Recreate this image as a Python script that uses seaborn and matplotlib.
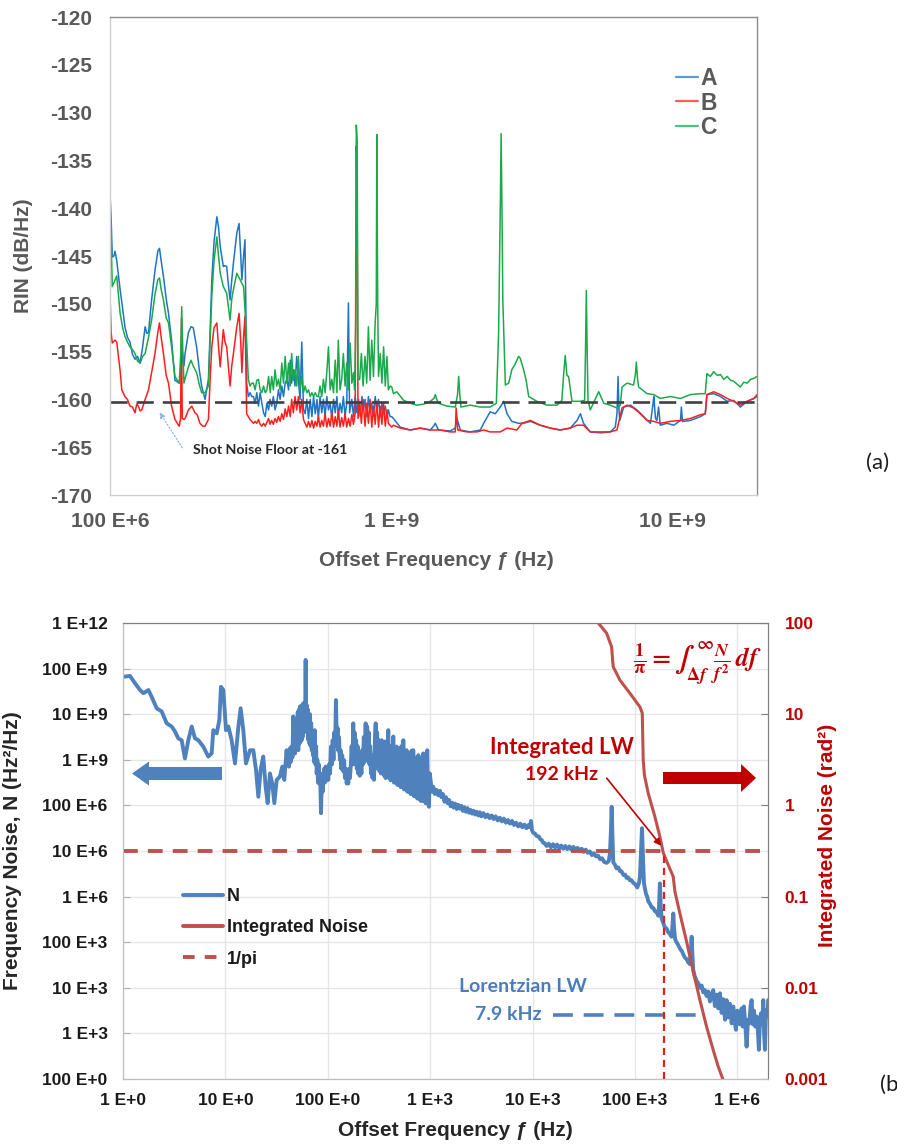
import numpy as np
import pandas as pd
import matplotlib
matplotlib.use("Agg")
import matplotlib.pyplot as plt
import seaborn as sns
from matplotlib.lines import Line2D
from matplotlib.patches import FancyArrow, FancyArrowPatch
from matplotlib.ticker import NullLocator

# ======================= panel (a): RIN spectra =======================
# points are (log10 of offset frequency in Hz, RIN in dB/Hz)
A_rin = [
    (8.000, -138.5), (8.004, -141.0), (8.008, -145.1), (8.014, -145.0), (8.018, -144.5), (8.024, -145.5),
    (8.030, -147.0), (8.036, -148.5), (8.045, -150.5), (8.053, -152.4), (8.062, -153.5), (8.071, -154.0),
    (8.080, -155.3), (8.089, -155.8), (8.098, -155.5), (8.107, -156.2), (8.116, -154.5), (8.125, -152.4),
    (8.131, -153.1), (8.137, -153.0), (8.148, -149.6), (8.160, -146.5), (8.170, -144.5), (8.176, -144.2),
    (8.182, -145.5), (8.190, -147.1), (8.200, -149.5), (8.208, -151.0), (8.219, -153.8), (8.231, -158.0),
    (8.246, -158.3), (8.252, -157.5), (8.257, -155.0), (8.263, -156.5), (8.267, -155.2), (8.279, -153.0),
    (8.288, -152.4), (8.296, -152.5), (8.302, -153.5), (8.308, -154.5), (8.318, -157.0), (8.326, -158.6),
    (8.338, -160.0), (8.350, -157.9), (8.356, -153.0), (8.362, -147.5), (8.370, -143.5), (8.380, -140.9),
    (8.386, -142.0), (8.392, -144.0), (8.403, -146.1), (8.409, -146.0), (8.415, -146.1), (8.421, -148.0),
    (8.427, -149.6), (8.433, -147.5), (8.439, -145.7), (8.451, -142.6), (8.459, -141.6), (8.465, -145.0),
    (8.469, -147.5), (8.475, -145.0), (8.480, -143.3), (8.483, -150.0),
    (8.486, -158.3), (8.492, -159.7), (8.498, -159.3), (8.504, -159.7), (8.510, -159.7), (8.516, -160.4),
    (8.522, -159.3), (8.528, -160.7), (8.534, -159.3), (8.540, -160.4), (8.546, -161.4), (8.552, -161.8),
    (8.558, -160.4), (8.564, -161.1), (8.569, -160.0), (8.575, -160.7), (8.581, -159.7), (8.587, -161.1),
    (8.593, -160.4), (8.599, -159.0), (8.605, -160.0), (8.611, -158.6), (8.617, -159.7), (8.623, -158.3),
    (8.629, -157.9), (8.635, -159.0), (8.641, -155.9), (8.646, -158.3), (8.652, -156.9), (8.658, -158.6),
    (8.664, -155.5), (8.670, -158.0), (8.676, -160.0), (8.682, -154.0), (8.688, -161.0), (8.694, -161.5),
    (8.700, -160.0), (8.706, -162.0), (8.712, -160.0), (8.718, -161.8), (8.724, -159.7), (8.730, -161.5),
    (8.736, -160.0), (8.741, -162.1), (8.747, -159.7), (8.753, -161.4), (8.759, -160.0), (8.765, -161.8),
    (8.771, -159.7), (8.777, -161.1), (8.783, -160.4), (8.789, -162.0), (8.795, -160.0), (8.801, -161.4),
    (8.807, -159.7), (8.812, -161.8), (8.818, -160.4), (8.824, -161.4), (8.830, -159.7), (8.836, -161.8),
    (8.842, -160.4), (8.848, -149.9), (8.852, -161.4), (8.860, -160.0), (8.866, -161.8), (8.872, -159.7),
    (8.878, -161.4), (8.884, -160.0), (8.890, -161.8), (8.896, -159.7), (8.901, -161.1), (8.907, -160.0),
    (8.913, -161.8), (8.919, -159.7), (8.925, -161.4), (8.931, -160.4), (8.937, -161.8), (8.943, -159.7),
    (8.949, -161.1), (8.955, -160.0), (8.961, -161.8), (8.967, -160.4), (8.973, -161.4), (8.979, -160.7),
    (8.985, -161.8), (8.990, -161.1), (8.996, -161.8), (9.002, -161.8),
    (9.008, -162.0), (9.032, -162.9), (9.068, -163.2), (9.103, -163.0), (9.139, -163.2), (9.151, -162.8),
    (9.157, -162.5), (9.168, -163.2), (9.210, -163.3), (9.228, -163.0), (9.234, -162.0), (9.246, -163.2),
    (9.281, -163.4), (9.317, -163.2), (9.329, -162.5), (9.352, -161.3), (9.370, -161.5), (9.388, -160.8),
    (9.400, -160.2), (9.412, -161.5), (9.429, -162.3), (9.453, -162.5), (9.471, -162.5), (9.495, -162.3),
    (9.530, -162.7), (9.566, -163.0), (9.601, -163.2), (9.637, -163.0), (9.661, -162.2), (9.673, -161.5),
    (9.684, -162.5), (9.708, -163.4), (9.744, -163.5), (9.779, -163.4), (9.797, -162.9), (9.803, -161.5),
    (9.807, -157.6), (9.810, -161.0), (9.813, -162.2), (9.827, -160.8), (9.851, -160.6), (9.874, -161.1),
    (9.898, -161.8), (9.922, -162.5), (9.931, -160.5), (9.934, -159.7), (9.940, -162.0), (9.945, -162.2),
    (9.951, -160.8), (9.957, -162.7), (9.981, -162.5), (10.005, -162.7), (10.029, -162.2), (10.032, -160.8),
    (10.036, -162.3), (10.040, -162.3), (10.064, -162.2), (10.100, -161.8), (10.117, -161.5), (10.123, -159.5),
    (10.147, -159.4), (10.171, -159.7), (10.195, -160.2), (10.218, -160.1), (10.242, -160.8), (10.266, -160.2),
    (10.290, -159.9), (10.301, -159.7),
]

B_rin = [
    (8.000, -149.0), (8.004, -153.0), (8.008, -154.1), (8.018, -153.8), (8.024, -154.0), (8.030, -155.5),
    (8.036, -157.0), (8.042, -159.0), (8.053, -159.7), (8.062, -160.0), (8.071, -160.7), (8.080, -160.8),
    (8.089, -161.4), (8.095, -160.5), (8.101, -160.7), (8.107, -161.2), (8.113, -161.1), (8.125, -160.0),
    (8.137, -159.0), (8.148, -157.2), (8.160, -155.2), (8.170, -153.0), (8.176, -152.0), (8.182, -153.5),
    (8.190, -155.2), (8.200, -157.5), (8.208, -158.3), (8.219, -160.7), (8.231, -162.1), (8.246, -162.8),
    (8.251, -162.0), (8.254, -151.5), (8.257, -162.0), (8.263, -162.1), (8.267, -162.0), (8.279, -161.1),
    (8.291, -160.7), (8.302, -161.4), (8.310, -161.6), (8.320, -162.5), (8.330, -162.8), (8.338, -162.8),
    (8.350, -162.1), (8.356, -158.0), (8.362, -154.5), (8.370, -152.5), (8.380, -152.0), (8.386, -154.5),
    (8.392, -156.6), (8.398, -154.5), (8.403, -152.7), (8.409, -154.0), (8.415, -154.5), (8.421, -156.5),
    (8.427, -158.6), (8.433, -156.5), (8.439, -155.2), (8.451, -152.4), (8.459, -151.0), (8.465, -154.0),
    (8.469, -157.2), (8.475, -153.5), (8.480, -151.3), (8.483, -156.0),
    (8.486, -161.5), (8.492, -161.8), (8.498, -162.1), (8.504, -162.3), (8.510, -162.5), (8.516, -162.3),
    (8.522, -162.5), (8.528, -162.1), (8.534, -162.6), (8.540, -162.8), (8.546, -162.5), (8.552, -162.8),
    (8.558, -162.4), (8.564, -162.0), (8.569, -162.6), (8.575, -162.2), (8.581, -162.6), (8.587, -162.0),
    (8.593, -162.4), (8.599, -161.8), (8.605, -162.3), (8.611, -161.5), (8.617, -162.1), (8.623, -161.0),
    (8.629, -161.8), (8.635, -160.7), (8.641, -161.8), (8.646, -160.0), (8.652, -161.4), (8.658, -159.7),
    (8.664, -161.1), (8.670, -159.7), (8.676, -161.4), (8.682, -160.0), (8.688, -162.1), (8.694, -162.5),
    (8.700, -162.9), (8.706, -162.3), (8.712, -162.9), (8.718, -162.2), (8.724, -163.0), (8.730, -162.3),
    (8.736, -162.8), (8.741, -161.8), (8.747, -162.9), (8.753, -162.2), (8.759, -162.8), (8.765, -161.5),
    (8.771, -162.9), (8.777, -162.0), (8.783, -162.8), (8.789, -161.4), (8.795, -162.9), (8.801, -161.8),
    (8.807, -162.8), (8.812, -161.2), (8.818, -162.9), (8.824, -161.9), (8.830, -162.8), (8.836, -161.5),
    (8.842, -162.9), (8.848, -162.0), (8.854, -162.8), (8.860, -161.6), (8.866, -162.6), (8.872, -161.4),
    (8.876, -133.5), (8.879, -140.0), (8.882, -162.0), (8.888, -160.4), (8.894, -162.5), (8.900, -160.0),
    (8.907, -162.8), (8.913, -160.4), (8.919, -162.5), (8.925, -160.0), (8.931, -162.9), (8.937, -160.7),
    (8.943, -162.6), (8.949, -160.2), (8.955, -162.9), (8.961, -160.7), (8.967, -162.6), (8.973, -160.4),
    (8.979, -162.8), (8.985, -161.1), (8.990, -162.5), (8.996, -162.7), (9.002, -162.9),
    (9.008, -162.7), (9.032, -163.0), (9.068, -163.2), (9.103, -163.0), (9.139, -163.2), (9.174, -163.2),
    (9.210, -163.4), (9.228, -163.4), (9.231, -160.9), (9.237, -163.2), (9.269, -163.4), (9.305, -163.4),
    (9.329, -163.2), (9.352, -163.4), (9.388, -163.4), (9.412, -163.0), (9.447, -163.2), (9.465, -162.5),
    (9.495, -162.2), (9.530, -162.7), (9.566, -163.0), (9.601, -163.2), (9.637, -163.0), (9.661, -162.7),
    (9.684, -162.7), (9.708, -163.4), (9.744, -163.4), (9.779, -163.4), (9.803, -163.2), (9.821, -160.9),
    (9.839, -160.6), (9.862, -160.9), (9.886, -161.5), (9.910, -162.2), (9.934, -162.3), (9.957, -162.5),
    (9.993, -162.3), (10.029, -162.2), (10.064, -162.0), (10.100, -161.6), (10.117, -161.5), (10.123, -159.5),
    (10.147, -159.2), (10.171, -159.5), (10.195, -159.9), (10.218, -160.2), (10.242, -160.6), (10.266, -160.2),
    (10.290, -159.9), (10.301, -159.5),
]

C_rin = [
    (8.000, -141.0), (8.004, -143.0), (8.008, -148.2), (8.018, -147.5), (8.024, -147.1), (8.030, -149.0),
    (8.036, -151.0), (8.045, -152.5), (8.053, -153.4), (8.062, -154.0), (8.071, -154.5), (8.080, -154.8),
    (8.089, -155.2), (8.098, -156.0), (8.107, -156.2), (8.116, -155.5), (8.125, -155.2), (8.137, -153.5),
    (8.148, -151.7), (8.160, -149.0), (8.170, -147.5), (8.176, -147.3), (8.182, -148.5), (8.190, -149.6),
    (8.200, -151.5), (8.208, -152.0), (8.219, -154.5), (8.231, -157.6), (8.246, -158.3), (8.252, -155.0),
    (8.255, -150.3), (8.259, -155.0), (8.263, -158.3), (8.270, -157.5), (8.279, -156.6), (8.288, -155.9),
    (8.296, -156.5), (8.308, -157.2), (8.318, -158.5), (8.326, -159.3), (8.338, -159.3), (8.350, -158.6),
    (8.356, -154.0), (8.362, -149.2), (8.370, -145.5), (8.380, -143.0), (8.386, -145.0), (8.392, -146.8),
    (8.403, -148.2), (8.415, -148.9), (8.427, -151.7), (8.433, -149.5), (8.439, -148.5), (8.451, -146.8),
    (8.463, -147.5), (8.475, -148.2), (8.483, -152.0),
    (8.492, -157.9), (8.498, -158.6), (8.504, -158.3), (8.510, -158.3), (8.516, -159.0), (8.522, -158.0),
    (8.528, -157.9), (8.534, -159.0), (8.540, -159.3), (8.546, -158.6), (8.552, -159.3), (8.558, -159.0),
    (8.564, -157.6), (8.570, -159.3), (8.575, -157.6), (8.581, -159.0), (8.587, -156.9), (8.593, -158.6),
    (8.599, -157.9), (8.605, -159.0), (8.611, -156.2), (8.617, -158.3), (8.623, -155.5), (8.629, -158.3),
    (8.635, -156.2), (8.641, -158.6), (8.646, -155.2), (8.652, -158.0), (8.658, -156.9), (8.664, -158.6),
    (8.670, -155.5), (8.676, -159.0), (8.682, -157.6), (8.688, -159.3), (8.694, -158.6), (8.700, -159.3),
    (8.706, -159.0), (8.712, -159.7), (8.718, -159.3), (8.724, -159.7), (8.730, -159.3), (8.736, -159.7),
    (8.741, -159.7), (8.747, -158.6), (8.753, -159.7), (8.759, -157.9), (8.765, -159.3), (8.771, -157.2),
    (8.777, -154.5), (8.783, -159.0), (8.789, -157.9), (8.795, -159.3), (8.801, -155.9), (8.807, -159.3),
    (8.812, -153.8), (8.818, -159.0), (8.824, -157.9), (8.830, -155.2), (8.836, -158.6), (8.842, -156.2),
    (8.848, -159.0), (8.854, -154.1), (8.860, -158.3), (8.866, -157.2), (8.870, -159.0), (8.874, -152.0),
    (8.876, -131.3), (8.879, -133.0), (8.882, -158.0), (8.888, -157.9), (8.894, -155.2), (8.900, -158.6),
    (8.907, -155.5), (8.913, -158.3), (8.919, -152.4), (8.925, -158.0), (8.931, -153.8), (8.937, -157.6),
    (8.943, -152.0), (8.947, -150.0), (8.949, -132.3), (8.952, -150.0), (8.955, -157.6), (8.961, -155.2),
    (8.967, -158.3), (8.973, -154.5), (8.979, -158.6), (8.985, -155.5), (8.990, -159.0), (8.996, -158.6),
    (9.002, -158.7), (9.008, -159.4), (9.020, -159.2), (9.044, -160.1), (9.068, -160.4), (9.091, -160.6),
    (9.115, -160.5), (9.139, -160.2), (9.152, -159.9), (9.157, -159.5), (9.162, -160.0), (9.168, -160.4),
    (9.198, -160.7), (9.228, -160.8), (9.236, -159.5), (9.240, -157.6), (9.244, -159.5), (9.248, -160.8),
    (9.281, -160.6), (9.317, -160.8), (9.352, -160.8), (9.374, -160.4), (9.382, -153.1), (9.388, -140.0),
    (9.391, -132.2), (9.394, -140.0), (9.397, -149.6), (9.406, -158.5), (9.418, -158.3), (9.429, -156.9),
    (9.441, -156.3), (9.447, -155.9), (9.453, -155.5), (9.459, -155.7), (9.465, -156.3), (9.471, -156.9),
    (9.480, -158.0), (9.489, -159.7), (9.518, -160.2), (9.554, -160.6), (9.590, -160.6), (9.607, -160.1),
    (9.613, -157.5), (9.619, -155.4), (9.625, -157.5), (9.631, -157.6), (9.643, -160.2), (9.673, -160.2),
    (9.688, -160.1), (9.691, -155.0), (9.694, -148.6), (9.697, -155.0), (9.700, -160.1), (9.708, -161.1),
    (9.738, -159.2), (9.756, -160.4), (9.779, -160.6), (9.803, -160.9), (9.815, -160.6), (9.821, -158.7),
    (9.839, -158.3), (9.862, -158.5), (9.868, -157.5), (9.872, -156.1), (9.876, -157.8), (9.880, -158.7),
    (9.910, -159.4), (9.934, -159.5), (9.957, -159.9), (9.993, -159.7), (10.029, -159.9), (10.064, -159.5),
    (10.100, -159.4), (10.117, -159.4), (10.123, -157.3), (10.135, -157.6), (10.147, -157.1), (10.160, -157.5),
    (10.171, -157.4), (10.183, -157.9), (10.195, -157.6), (10.207, -158.0), (10.218, -158.1), (10.230, -158.4),
    (10.242, -158.7), (10.254, -158.2), (10.266, -158.3), (10.278, -157.9), (10.290, -157.8), (10.301, -157.6),
]

series_a_names = ["A", "B", "C"]
shot_noise_floor_db = -160.3
rin_ticks = [-170, -165, -160, -155, -150, -145, -140, -135, -130, -125, -120]
freq_ticks_a = [1e8, 1e9, 1e10]
freq_labels_a = ["100 E+6", "1 E+9", "10 E+9"]

# ======================= panel (b): frequency noise =======================
# (log10 offset frequency in Hz, log10 N in Hz^2/Hz)
N_spectrum = [
    (0.000, 10.82), (0.068, 10.84), (0.117, 10.68), (0.166, 10.53), (0.199, 10.46), (0.248, 10.53),
    (0.280, 10.38), (0.329, 10.13), (0.378, 10.06), (0.427, 9.80), (0.475, 9.73), (0.508, 9.62),
    (0.540, 9.47), (0.573, 9.43), (0.605, 9.03), (0.638, 9.43), (0.671, 9.73), (0.703, 9.47),
    (0.736, 9.43), (0.784, 9.29), (0.833, 9.07), (0.866, 9.14), (0.882, 9.65), (0.915, 9.58),
    (0.941, 9.87), (0.957, 10.60), (0.980, 10.53), (1.006, 9.65), (1.029, 9.73), (1.061, 9.43),
    (1.094, 8.92), (1.127, 9.73), (1.149, 10.13), (1.175, 9.65), (1.201, 8.92), (1.240, 9.21),
    (1.273, 9.21), (1.299, 8.78), (1.322, 8.19), (1.344, 8.78), (1.370, 9.07), (1.393, 8.41),
    (1.413, 8.05), (1.435, 8.70), (1.458, 8.48), (1.478, 8.05), (1.501, 8.56), (1.533, 8.63),
    (1.556, 8.85), (1.575, 8.56),
    (1.598, 9.21), (1.606, 8.90), (1.614, 9.15), (1.621, 8.85), (1.630, 9.25), (1.638, 8.95),
    (1.647, 9.29), (1.655, 9.05), (1.663, 9.95), (1.668, 9.20), (1.674, 9.85), (1.680, 9.14),
    (1.686, 9.90), (1.691, 9.25), (1.696, 9.80), (1.702, 9.30), (1.707, 10.05), (1.712, 9.21),
    (1.718, 10.10), (1.723, 9.35), (1.728, 10.17), (1.734, 9.40), (1.740, 10.05), (1.745, 9.43),
    (1.750, 10.20), (1.755, 9.50), (1.761, 10.24), (1.767, 9.60), (1.773, 10.15), (1.778, 9.80),
    (1.784, 11.19), (1.790, 9.70), (1.795, 10.20), (1.800, 9.60), (1.806, 10.10), (1.811, 9.43),
    (1.816, 9.90), (1.822, 9.35), (1.827, 10.00), (1.833, 9.30), (1.838, 9.80), (1.844, 9.21),
    (1.850, 9.60), (1.855, 9.10), (1.861, 9.50), (1.867, 8.95), (1.873, 9.65), (1.880, 8.90),
    (1.886, 9.30), (1.892, 8.70), (1.898, 9.00), (1.905, 8.50), (1.911, 8.90), (1.917, 8.48),
    (1.925, 8.70), (1.934, 7.83), (1.942, 8.60), (1.950, 8.30), (1.956, 8.56), (1.963, 8.80),
    (1.971, 8.50), (1.979, 8.85), (1.988, 8.55), (1.996, 8.80), (2.005, 8.56), (2.013, 8.90),
    (2.022, 8.70), (2.031, 9.29), (2.040, 8.90), (2.048, 9.43), (2.056, 9.00), (2.064, 9.60),
    (2.072, 9.30), (2.080, 10.31), (2.088, 9.40), (2.096, 9.70), (2.103, 9.20), (2.110, 9.50),
    (2.118, 9.00), (2.125, 9.21), (2.133, 8.80), (2.141, 9.10), (2.151, 8.75), (2.160, 8.99),
    (2.168, 8.60), (2.177, 8.80), (2.185, 8.48), (2.193, 8.70), (2.200, 8.48), (2.208, 8.80),
    (2.217, 8.60), (2.226, 8.92), (2.233, 9.30), (2.241, 8.90), (2.249, 9.80), (2.256, 9.00),
    (2.262, 9.60), (2.270, 8.90), (2.277, 9.43), (2.284, 8.80), (2.291, 9.30), (2.298, 8.70),
    (2.306, 9.10), (2.313, 8.65), (2.321, 9.00), (2.329, 8.70), (2.337, 9.21), (2.344, 8.90),
    (2.352, 9.50), (2.360, 8.95), (2.370, 9.80), (2.377, 9.00), (2.385, 9.73), (2.392, 9.00),
    (2.400, 9.60), (2.407, 8.90), (2.414, 9.30), (2.422, 8.70), (2.430, 9.10), (2.437, 8.60),
    (2.445, 9.00), (2.452, 8.56), (2.460, 9.40), (2.468, 9.80), (2.475, 8.90), (2.482, 9.60),
    (2.490, 8.80), (2.498, 9.43), (2.505, 8.75), (2.513, 9.30), (2.520, 8.70), (2.528, 9.43),
    (2.536, 8.70), (2.543, 9.35), (2.551, 8.65), (2.558, 9.40), (2.565, 8.60), (2.573, 9.40),
    (2.580, 8.65), (2.591, 9.65), (2.598, 8.60), (2.606, 9.30), (2.614, 8.55), (2.622, 9.30),
    (2.630, 8.60), (2.640, 9.51), (2.647, 8.50), (2.655, 9.20), (2.663, 8.50), (2.671, 9.29),
    (2.680, 8.45), (2.689, 9.25), (2.697, 8.45), (2.705, 9.10), (2.712, 8.40), (2.720, 9.30),
    (2.728, 8.40), (2.738, 9.43), (2.745, 8.35), (2.753, 9.10), (2.761, 8.35), (2.770, 9.21),
    (2.778, 8.30), (2.786, 9.15), (2.795, 8.30), (2.803, 9.00), (2.809, 8.25), (2.818, 9.20),
    (2.826, 8.25), (2.835, 9.21), (2.843, 8.20), (2.850, 9.05), (2.858, 8.20), (2.866, 9.00),
    (2.875, 8.15), (2.884, 9.10), (2.892, 8.15), (2.900, 9.05), (2.907, 8.10), (2.915, 9.00),
    (2.925, 8.10), (2.933, 9.14), (2.940, 8.10), (2.948, 9.00), (2.956, 8.05), (2.964, 8.90),
    (2.972, 9.21), (2.980, 8.05), (2.988, 7.97), (2.996, 8.70), (3.008, 8.48), (3.018, 8.30),
    (3.031, 8.41), (3.045, 8.25), (3.063, 8.34),
    (3.080, 8.22), (3.096, 8.32), (3.110, 8.18), (3.125, 8.25), (3.140, 8.08), (3.155, 8.18),
    (3.170, 8.05), (3.185, 8.12), (3.200, 7.98), (3.215, 8.06), (3.230, 7.95), (3.245, 8.04),
    (3.260, 7.92), (3.275, 8.01), (3.290, 7.93), (3.305, 7.99), (3.320, 7.88), (3.335, 7.96),
    (3.350, 7.86), (3.365, 7.94), (3.380, 7.84), (3.395, 7.90), (3.410, 7.82), (3.425, 7.88),
    (3.440, 7.80), (3.455, 7.86), (3.470, 7.78), (3.485, 7.85), (3.500, 7.76), (3.520, 7.83),
    (3.540, 7.74), (3.560, 7.80), (3.580, 7.72), (3.600, 7.78), (3.620, 7.70), (3.640, 7.76),
    (3.660, 7.67), (3.680, 7.73), (3.700, 7.65), (3.720, 7.71), (3.740, 7.62), (3.760, 7.68),
    (3.780, 7.60), (3.800, 7.66), (3.820, 7.57), (3.840, 7.62), (3.860, 7.54), (3.880, 7.60),
    (3.900, 7.52), (3.920, 7.58), (3.940, 7.50), (3.960, 7.57), (3.975, 7.52), (3.985, 7.66),
    (3.995, 7.45), (4.007, 7.40), (4.025, 7.38), (4.040, 7.33), (4.060, 7.32), (4.075, 7.26),
    (4.090, 7.24), (4.105, 7.18), (4.120, 7.17), (4.138, 7.11), (4.160, 7.16), (4.180, 7.08),
    (4.200, 7.15), (4.220, 7.08), (4.240, 7.14), (4.260, 7.06), (4.280, 7.12), (4.300, 7.05),
    (4.320, 7.11), (4.340, 7.04), (4.360, 7.10), (4.380, 7.03), (4.400, 7.09), (4.420, 7.02),
    (4.440, 7.07), (4.460, 7.00), (4.480, 7.05), (4.500, 6.98), (4.520, 7.03), (4.540, 6.96),
    (4.560, 6.99), (4.580, 6.91), (4.600, 6.95), (4.620, 6.88), (4.640, 6.90), (4.660, 6.82),
    (4.680, 6.84), (4.700, 6.76), (4.724, 6.74), (4.745, 6.78), (4.756, 6.95), (4.765, 7.40),
    (4.773, 7.97), (4.781, 7.30), (4.789, 6.75), (4.805, 6.70), (4.820, 6.62), (4.837, 6.64),
    (4.854, 6.56), (4.870, 6.55), (4.890, 6.47), (4.905, 6.48), (4.919, 6.41), (4.935, 6.42),
    (4.950, 6.36), (4.967, 6.36), (4.984, 6.30), (5.000, 6.28), (5.023, 6.20), (5.040, 6.30),
    (5.049, 6.44), (5.060, 7.00), (5.069, 7.50), (5.078, 6.90), (5.088, 6.30), (5.100, 6.15),
    (5.110, 6.05), (5.120, 6.00), (5.130, 5.90), (5.145, 5.85), (5.165, 5.76), (5.180, 5.75),
    (5.196, 5.68), (5.212, 5.66), (5.228, 5.58), (5.236, 5.80), (5.244, 6.29), (5.252, 5.80),
    (5.261, 5.52), (5.277, 5.42), (5.293, 5.32), (5.310, 5.30), (5.325, 5.22), (5.342, 5.18),
    (5.358, 5.12), (5.368, 5.40), (5.375, 5.63), (5.383, 5.30), (5.392, 5.08), (5.401, 5.02),
    (5.420, 4.95), (5.440, 4.86), (5.460, 4.80), (5.475, 4.72), (5.489, 4.66), (5.505, 4.63),
    (5.520, 4.56), (5.537, 4.52), (5.546, 4.80), (5.554, 5.12), (5.562, 4.70), (5.570, 4.39),
    (5.585, 4.25), (5.603, 4.15), (5.620, 4.10), (5.636, 4.00), (5.652, 4.05), (5.668, 3.90),
    (5.684, 3.95), (5.700, 3.82), (5.716, 3.92), (5.733, 3.70), (5.749, 3.85), (5.765, 3.95),
    (5.781, 3.60), (5.798, 3.85), (5.814, 3.55), (5.831, 3.88), (5.847, 3.45), (5.863, 3.75),
    (5.880, 3.30), (5.896, 3.73), (5.912, 3.35), (5.928, 3.65), (5.945, 3.22), (5.961, 3.59),
    (5.975, 3.25), (5.987, 3.08), (6.000, 3.50), (6.009, 3.44), (6.025, 3.20), (6.042, 3.55),
    (6.053, 3.15), (6.065, 3.59), (6.078, 3.20), (6.091, 2.71), (6.104, 3.30), (6.117, 3.22),
    (6.130, 3.60), (6.140, 3.73), (6.152, 3.20), (6.163, 3.50), (6.176, 3.15), (6.189, 3.37),
    (6.200, 3.10), (6.211, 2.64), (6.222, 3.30), (6.231, 3.44), (6.243, 3.20), (6.254, 3.73),
    (6.262, 3.00), (6.270, 2.64), (6.278, 3.30), (6.286, 3.51), (6.295, 3.40), (6.302, 3.73),
]

# (log10 offset frequency in Hz, log10 integrated noise in rad^2)
integrated_noise = [
    (4.620, 2.20), (4.642, 2.00), (4.723, 1.89), (4.772, 1.74), (4.788, 1.52), (4.853, 1.375),
    (4.951, 1.23), (5.049, 1.08), (5.072, 1.01), (5.081, 0.50), (5.093, 0.33), (5.130, 0.133),
    (5.195, -0.123), (5.244, -0.343), (5.277, -0.52), (5.313, -0.62), (5.374, -0.78), (5.391, -0.946),
    (5.439, -1.183), (5.505, -1.494), (5.570, -1.823), (5.635, -2.134), (5.700, -2.426), (5.765, -2.682),
    (5.814, -2.865), (5.862, -3.01), (5.880, -3.08),
]

one_over_pi = 1.0 / np.pi
integrated_lw_hz = 1.92e5
lorentzian_lw_hz = 7.9e3
lorentz_marker_span_hz = (1.58e4, 4.3e5)
freq_ticks_b = [1e0, 1e1, 1e2, 1e3, 1e4, 1e5, 1e6]
freq_labels_b = ["1 E+0", "10 E+0", "100 E+0", "1 E+3", "10 E+3", "100 E+3", "1 E+6"]
N_ticks = [1e2, 1e3, 1e4, 1e5, 1e6, 1e7, 1e8, 1e9, 1e10, 1e11, 1e12]
N_labels = ["100 E+0", "1 E+3", "10 E+3", "100 E+3", "1 E+6", "10 E+6", "100 E+6",
            "1 E+9", "10 E+9", "100 E+9", "1 E+12"]
I_ticks = [1e-3, 1e-2, 1e-1, 1e0, 1e1, 1e2]
I_labels = ["0.001", "0.01", "0.1", "1", "10", "100"]

# ======================= styling =======================
sns.set_style("white")
plt.rcParams["font.family"] = ["Liberation Sans", "DejaVu Sans"]
plt.rcParams["font.weight"] = "bold"
plt.rcParams["axes.labelweight"] = "bold"

W, H = 897, 1144
fig = plt.figure(figsize=(W / 100, H / 100), dpi=100)


def fx(px):
    return px / W


def fy(py):
    return 1 - py / H


ax1 = fig.add_axes([fx(110), fy(495), (757 - 110) / W, (495 - 17) / H])
ax2 = fig.add_axes([fx(123), fy(1079), (768 - 123) / W, (1079 - 623) / H])
ax2r = ax2.twinx()

col_a = {"A": "#1F74C6", "B": "#FF1E1E", "C": "#1BAA4A"}
col_a_leg = {"A": "#5B9BD5", "B": "#FF5C5C", "C": "#4CC27F"}
gray_txt = "#595959"

# ---------------- panel (a) ----------------
for name, pts in zip(series_a_names, [A_rin, B_rin, C_rin]):
    arr = np.asarray(pts, dtype=float)
    df = pd.DataFrame({"f": 10 ** arr[:, 0], "rin": arr[:, 1]})
    sns.lineplot(data=df, x="f", y="rin", ax=ax1, color=col_a[name], linewidth=1.1,
                 estimator=None, sort=False, legend=False)

ax1.axhline(shot_noise_floor_db, color="#404040", linewidth=1.9, linestyle=(0, (6.5, 3.4)))
ax1.set_xscale("log")
ax1.set_xlim(1e8, 10 ** 10.301)
ax1.set_ylim(-170, -120)
ax1.set_xticks(freq_ticks_a, freq_labels_a)
ax1.xaxis.set_minor_locator(NullLocator())
ax1.set_yticks(rin_ticks, [str(t) for t in rin_ticks])
ax1.tick_params(axis="both", direction="in", length=5, width=0.8, color="#c8c8c8",
                labelsize=15, labelcolor=gray_txt)
ax1.tick_params(axis="y", pad=13)
ax1.tick_params(axis="x", pad=12)
for s in ["top", "right"]:
    ax1.spines[s].set_color("#8c8c8c")
    ax1.spines[s].set_linewidth(1.0)
for s in ["left", "bottom"]:
    ax1.spines[s].set_color("#d0d0d0")
    ax1.spines[s].set_linewidth(1.0)
ax1.set_ylabel("RIN (dB/Hz)", fontsize=15, color=gray_txt)
ax1.set_xlabel("Offset Frequency ƒ (Hz)", fontsize=15, color=gray_txt)
ax1.yaxis.set_label_coords(-0.119, 0.5)
ax1.xaxis.set_label_coords(0.504, -0.118)

leg_a = [Line2D([], [], color=col_a_leg[n], lw=1.6, label=n) for n in series_a_names]
la = ax1.legend(handles=leg_a, loc="center left", bbox_to_anchor=(fx(676), fy(103)),
                bbox_transform=fig.transFigure, frameon=False, fontsize=16.5,
                handlelength=0.95, handletextpad=0.1, labelspacing=0.06,
                borderpad=0, borderaxespad=0)
for t in la.get_texts():
    t.set_color(gray_txt)

ax1.annotate("", xy=(10 ** 8.171, -161.1), xytext=(10 ** 8.262, -165.3),
             arrowprops=dict(arrowstyle="-|>", color="#8DB3E2", lw=0.9, linestyle=":",
                             mutation_scale=8))
ax1.text(10 ** 8.295, -165.3, "Shot Noise Floor at -161", fontsize=10.2, family="Lato",
         fontweight="bold", color="#262626", ha="left", va="center")

fig.text(fx(878), fy(463), "(a)", fontsize=16, family="Lato", fontweight="normal",
         color="#1a1a1a", ha="center", va="center")

# ---------------- panel (b) ----------------
arrN = np.asarray(N_spectrum, dtype=float)
dfN = pd.DataFrame({"f": 10 ** arrN[:, 0], "N": 10 ** arrN[:, 1]})
sns.lineplot(data=dfN, x="f", y="N", ax=ax2, color="#4F81BD", linewidth=2.8,
             estimator=None, sort=False, legend=False)

lor_level = lorentzian_lw_hz / np.pi
ax2.hlines(lor_level, lorentz_marker_span_hz[0], lorentz_marker_span_hz[1], color="#4F81BD",
           linewidth=2.6, linestyle=(0, (5.5, 3.0)))

arrI = np.asarray(integrated_noise, dtype=float)
dfI = pd.DataFrame({"f": 10 ** arrI[:, 0], "I": 10 ** arrI[:, 1]})
sns.lineplot(data=dfI, x="f", y="I", ax=ax2r, color="#C0504D", linewidth=2.2,
             estimator=None, sort=False, legend=False)
ax2r.axhline(one_over_pi, color="#C0504D", linewidth=2.8, linestyle=(0, (3.8, 2.6)))
ax2r.vlines(integrated_lw_hz, 1e-3, one_over_pi, color="#E0201B", linewidth=1.6,
            linestyle=(0, (3.2, 2.2)))

ax2.set_xscale("log")
ax2.set_yscale("log")
ax2.set_xlim(1, 10 ** 6.30)
ax2.set_ylim(1e2, 1e12)
ax2.set_xticks(freq_ticks_b, freq_labels_b)
ax2.set_yticks(N_ticks, N_labels)
ax2.xaxis.set_minor_locator(NullLocator())
ax2.yaxis.set_minor_locator(NullLocator())
ax2.grid(True, which="major", color="#e6e6e6", linewidth=1.0)
ax2.set_axisbelow(True)
ax2.tick_params(axis="both", direction="in", length=5, width=0.8, color="#b0b0b0",
                labelsize=12.5, labelcolor="#1a1a1a")
ax2.tick_params(axis="y", pad=11)
ax2.tick_params(axis="x", pad=10)

ax2r.set_yscale("log")
ax2r.set_ylim(1e-3, 1e2)
ax2r.set_yticks(I_ticks, I_labels)
ax2r.yaxis.set_minor_locator(NullLocator())
ax2r.tick_params(axis="y", direction="in", length=5, width=0.8, color="#808080",
                 labelsize=12.5, labelcolor="#C00000", pad=12)

for a in (ax2, ax2r):
    a.spines["top"].set_color("#808080")
    a.spines["right"].set_color("#808080")
    a.spines["left"].set_color("#bfbfbf")
    a.spines["bottom"].set_color("#bfbfbf")

ax2.set_ylabel("Frequency Noise, N (Hz²/Hz)", fontsize=15, color="#262626")
ax2.set_xlabel("Offset Frequency ƒ (Hz)", fontsize=15, color="#262626")
ax2.yaxis.set_label_coords(-0.157, 0.5)
ax2.xaxis.set_label_coords(0.515, -0.092)
ax2r.set_ylabel("Integrated Noise (rad²)", fontsize=15, color="#C00000")
ax2r.yaxis.set_label_coords(1.078, 0.535)

leg_b = [Line2D([], [], color="#4F81BD", lw=2.8, label="N"),
         Line2D([], [], color="#C0504D", lw=2.8, label="Integrated Noise"),
         Line2D([], [], color="#C0504D", lw=2.8, linestyle=(0, (3.0, 2.6)), label="1/pi")]
lb = ax2r.legend(handles=leg_b, loc="center left", bbox_to_anchor=(fx(183), fy(928)),
                 bbox_transform=fig.transFigure, frameon=False, fontsize=13,
                 handlelength=2.2, handletextpad=0.25, labelspacing=0.78,
                 borderpad=0, borderaxespad=0)
for t in lb.get_texts():
    t.set_color("#1a1a1a")

# big direction arrows
fig.patches.append(FancyArrow(fx(222), fy(773.5), -(222 - 132) / W, 0, width=13 / H,
                              head_width=24 / H, head_length=17 / W, length_includes_head=True,
                              transform=fig.transFigure, color="#4F81BD", lw=0))
fig.patches.append(FancyArrow(fx(663), fy(778), (756 - 663) / W, 0, width=12 / H,
                              head_width=28 / H, head_length=15 / W, length_includes_head=True,
                              transform=fig.transFigure, color="#C00000", lw=0))

# annotations
fig.text(fx(562), fy(748), "Integrated LW", fontsize=16, family="Lato", fontweight="bold",
         color="#C00000", ha="center", va="center")
fig.text(fx(562), fy(775), "192 kHz", fontsize=14, family="Lato", fontweight="bold",
         color="#C00000", ha="center", va="center")
fig.patches.append(FancyArrowPatch(
    (fx(605), fy(776)), (fx(663), fy(848)), transform=fig.transFigure,
    arrowstyle="-|>", mutation_scale=10, color="#C00000", lw=1.2))
fig.text(fx(523), fy(987), "Lorentzian LW", fontsize=14, family="Lato", fontweight="bold",
         color="#4A7EBB", ha="center", va="center")
fig.text(fx(508), fy(1015), "7.9 kHz", fontsize=14, family="Lato", fontweight="bold",
         color="#4A7EBB", ha="center", va="center")
fig.text(fx(697), fy(663), r"$\frac{\mathbf{1}}{\mathbf{\pi}} = \int_{\Delta f}^{\infty}\frac{N}{f^{2}}\,df$",
         fontsize=18.5, color="#C00000", ha="center", va="center", math_fontfamily="stix")
fig.text(fx(880), fy(1085), "(b)", fontsize=16, family="Lato", fontweight="normal",
         color="#1a1a1a", ha="left", va="center")

fig.savefig("out.png", dpi=100)
